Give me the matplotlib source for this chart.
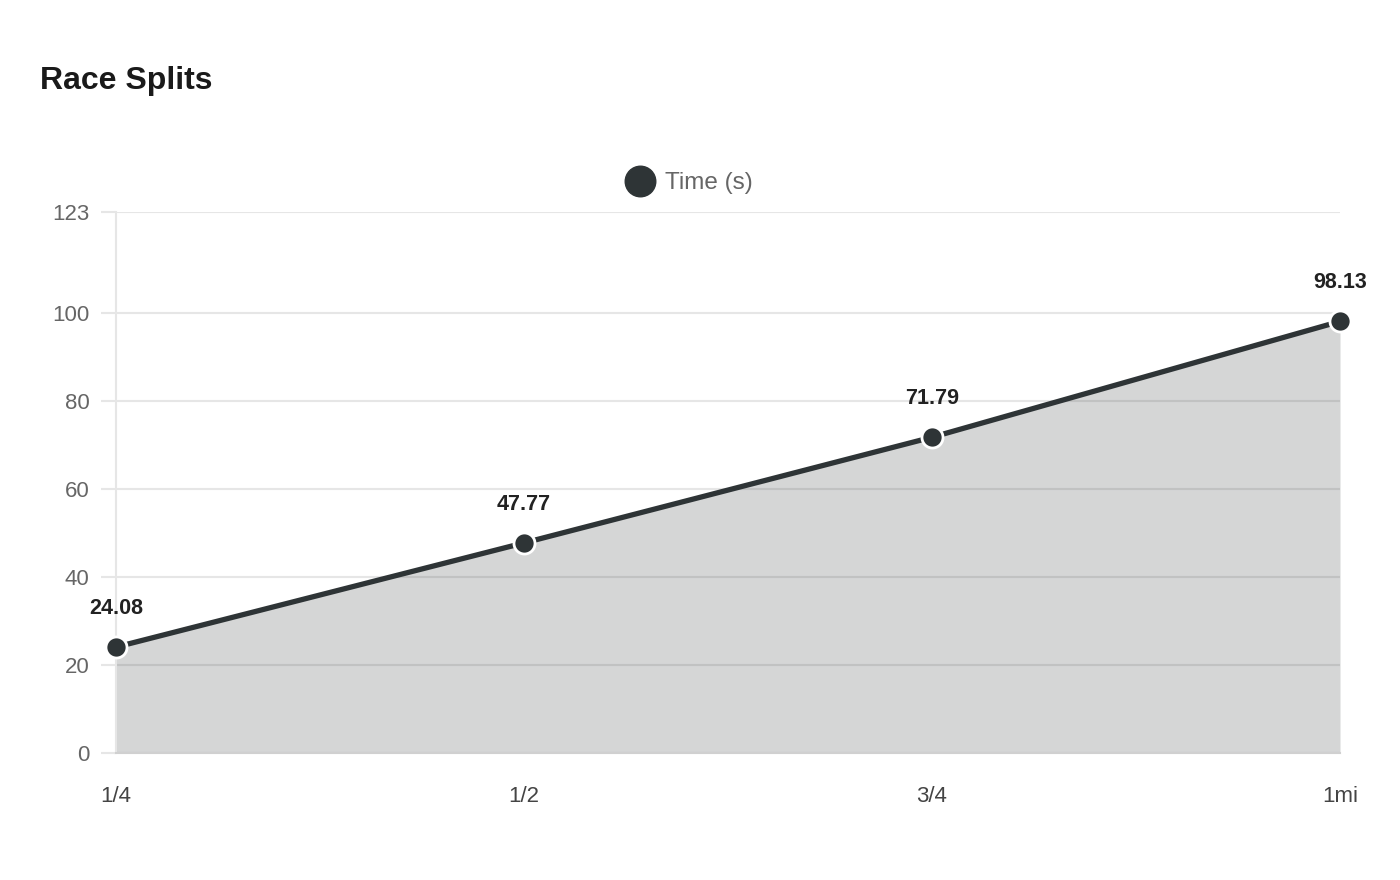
import matplotlib.pyplot as plt
from matplotlib.lines import Line2D

plt.rcParams['font.family'] = ['Liberation Sans', 'DejaVu Sans']

splits = ["1/4", "1/2", "3/4", "1mi"]
times = [24.08, 47.77, 71.79, 98.13]
y_ticks = [0, 20, 40, 60, 80, 100, 123]

line_color = "#2e3436"
grid_color = "#e6e6e6"

fig = plt.figure(figsize=(14, 8.8), dpi=100)
ax = fig.add_axes([116 / 1400, 1 - 753 / 880, 1224 / 1400, 541 / 880])

x = list(range(len(splits)))
ax.fill_between(x, times, 0, color=line_color, alpha=0.2, lw=0, zorder=2)
ax.plot(x, times, color=line_color, lw=3.8, zorder=3, solid_capstyle='round', clip_on=False)
ax.scatter(x, times, s=230, color=line_color, edgecolors='white', linewidths=2,
           zorder=4, clip_on=False)

for xi, v in zip(x, times):
    ax.annotate(f"{v:.2f}", (xi, v), xytext=(0, 28), textcoords='offset points',
                ha='center', va='center', fontsize=15.5, fontweight='bold', color='#222222')

ax.set_xlim(0, len(splits) - 1)
ax.set_ylim(0, 123)
ax.set_yticks(y_ticks)
ax.set_xticks(x)
ax.set_xticklabels(splits)
ax.grid(axis='y', color=grid_color, lw=1.5, zorder=1)
ax.set_axisbelow(True)
for s in ['top', 'right']:
    ax.spines[s].set_visible(False)
ax.spines['left'].set_color(grid_color)
ax.spines['left'].set_linewidth(1.5)
ax.spines['bottom'].set_color('#d0d0d0')
ax.spines['bottom'].set_linewidth(1.5)
ax.tick_params(axis='y', length=11, width=1.5, color=grid_color, pad=8,
               labelsize=16, labelcolor='#666666')
ax.tick_params(axis='x', length=0, pad=24, labelsize=16, labelcolor='#444444')

fig.text(40 / 1400, 1 - 81 / 880, "Race Splits", fontsize=23, fontweight='bold',
         color='#1a1a1a', va='center', ha='left')

handle = Line2D([], [], marker='o', ls='none', markersize=22, color=line_color)
fig.legend([handle], ["Time (s)"], loc='center', bbox_to_anchor=(689 / 1400, 1 - 183 / 880),
           frameon=False, fontsize=17.5, labelcolor='#666666', handletextpad=0.45,
           handlelength=1.2)

fig.savefig("out.png", dpi=100)
